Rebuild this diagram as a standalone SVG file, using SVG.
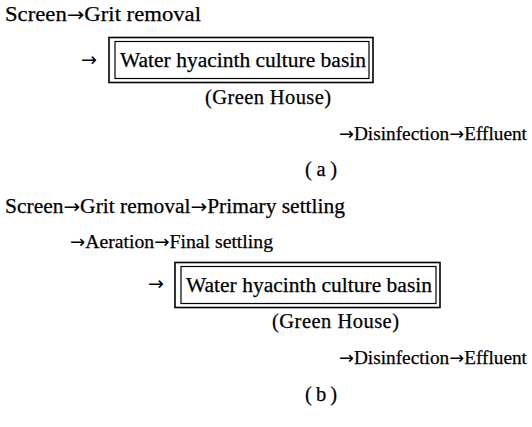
<svg xmlns="http://www.w3.org/2000/svg" width="532" height="427" viewBox="0 0 532 427">
<style>
text{font-family:"Liberation Serif","DejaVu Serif",serif;font-size:20.5px;fill:#000;stroke:#000;stroke-width:0.25}
.ar{font-family:"DejaVu Sans",sans-serif;font-size:19px;stroke:none}
.s{font-size:19.5px}
.s .ar{font-size:18px}
.o{fill:none;stroke:#000;stroke-width:1.6}
.i{fill:none;stroke:#000;stroke-width:1.2}
</style>
<rect width="532" height="427" fill="#fff"/>
<g id="a">
<g id="a-line1"><text x="5" y="21" textLength="196" lengthAdjust="spacingAndGlyphs">Screen<tspan class="ar">→</tspan>Grit removal</text></g>
<g id="a-arrow"><text class="ar" x="81" y="66">→</text></g>
<g id="a-basin">
<rect class="o" x="109" y="37.5" width="264" height="45"/>
<rect class="i" x="115" y="41.5" width="254" height="37"/>
<text x="120" y="67" textLength="246" lengthAdjust="spacingAndGlyphs">Water hyacinth culture basin</text>
</g>
<g id="a-gh"><text x="205" y="104" textLength="126" lengthAdjust="spacing">(Green House)</text></g>
<g id="a-line3"><text class="s" x="339" y="140" textLength="188" lengthAdjust="spacingAndGlyphs"><tspan class="ar">→</tspan>Disinfection<tspan class="ar">→</tspan>Effluent</text></g>
<g id="a-label"><text x="305" y="176" textLength="32" lengthAdjust="spacing">(a)</text></g>
</g>
<g id="b">
<g id="b-line1"><text x="5" y="213" textLength="340" lengthAdjust="spacingAndGlyphs">Screen<tspan class="ar">→</tspan>Grit removal<tspan class="ar">→</tspan>Primary settling</text></g>
<g id="b-line2"><text class="s" x="70" y="248" textLength="203" lengthAdjust="spacingAndGlyphs"><tspan class="ar">→</tspan>Aeration<tspan class="ar">→</tspan>Final settling</text></g>
<g id="b-arrow"><text class="ar" x="148" y="290">→</text></g>
<g id="b-basin">
<rect class="o" x="175" y="262.5" width="265" height="45"/>
<rect class="i" x="181" y="266.5" width="255" height="37"/>
<text x="186" y="292" textLength="246" lengthAdjust="spacingAndGlyphs">Water hyacinth culture basin</text>
</g>
<g id="b-gh"><text x="272" y="328" textLength="127" lengthAdjust="spacing">(Green House)</text></g>
<g id="b-line3"><text class="s" x="339" y="364" textLength="188" lengthAdjust="spacingAndGlyphs"><tspan class="ar">→</tspan>Disinfection<tspan class="ar">→</tspan>Effluent</text></g>
<g id="b-label"><text x="305" y="401" textLength="32" lengthAdjust="spacing">(b)</text></g>
</g>
</svg>
